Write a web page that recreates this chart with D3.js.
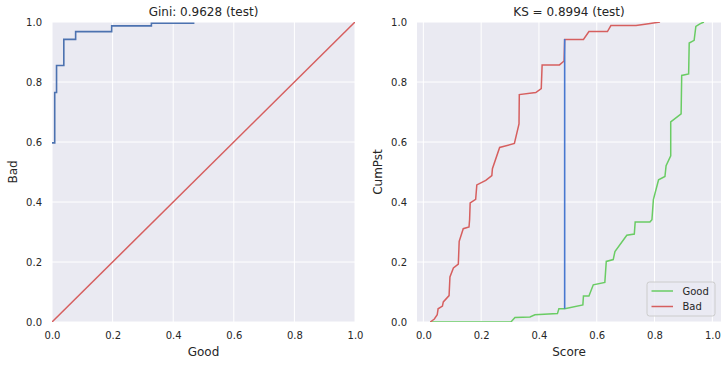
<!DOCTYPE html>
<html>
<head>
<meta charset="utf-8">
<script src="https://cdn.jsdelivr.net/npm/d3@7"></script>
<style>
body { margin: 0; background: #fff; }
text { font-family: "DejaVu Sans", sans-serif; fill: #262626; }
</style>
</head>
<body>
<script>
var w = 727;
var h = 365;

// ROC corner points (test set)
var rocGood = [0, 0.009, 0.009, 0.015, 0.015, 0.039, 0.039, 0.078, 0.078, 0.197, 0.197, 0.328, 0.328, 0.47];
var rocBad  = [0.597, 0.597, 0.765, 0.765, 0.855, 0.855, 0.942, 0.942, 0.968, 0.968, 0.987, 0.987, 0.996, 0.996];

// cumulative share by score
var goodScore = [0.024, 0.303, 0.317, 0.369, 0.386, 0.464, 0.469, 0.489, 0.552, 0.554, 0.573, 0.588, 0.628, 0.633, 0.657, 0.663, 0.704, 0.73, 0.733, 0.784, 0.791, 0.796, 0.814, 0.836, 0.84, 0.856, 0.856, 0.892, 0.894, 0.918, 0.92, 0.937, 0.943, 0.957, 0.971];
var goodCum   = [0, 0, 0.015, 0.017, 0.024, 0.028, 0.044, 0.044, 0.057, 0.087, 0.087, 0.124, 0.132, 0.202, 0.208, 0.235, 0.289, 0.293, 0.333, 0.333, 0.341, 0.408, 0.474, 0.485, 0.521, 0.554, 0.667, 0.694, 0.822, 0.827, 0.93, 0.939, 0.985, 0.994, 1.0];
var badScore = [0.024, 0.038, 0.048, 0.051, 0.066, 0.069, 0.089, 0.092, 0.104, 0.121, 0.124, 0.138, 0.158, 0.16, 0.162, 0.181, 0.185, 0.216, 0.237, 0.239, 0.264, 0.315, 0.331, 0.332, 0.389, 0.408, 0.411, 0.471, 0.487, 0.489, 0.554, 0.573, 0.637, 0.649, 0.736, 0.779, 0.819];
var badCum   = [0, 0.01, 0.024, 0.044, 0.053, 0.067, 0.088, 0.15, 0.18, 0.193, 0.269, 0.311, 0.317, 0.341, 0.397, 0.409, 0.457, 0.472, 0.488, 0.511, 0.582, 0.595, 0.66, 0.758, 0.765, 0.778, 0.857, 0.857, 0.87, 0.942, 0.942, 0.968, 0.968, 0.988, 0.988, 0.994, 1.0];

// KS point
var ksScore = 0.489;
var ksGood = 0.044;
var ksBad = 0.943;

var ticks = [0, 0.2, 0.4, 0.6, 0.8, 1.0];
var legendNames = ["Good", "Bad"];

var blueDeep = "#4c72b0";
var blue = "#4878d0";
var green = "#6acc64";
var red = "#d65f5f";

var svg = d3.select("body").append("svg")
    .attr("width", w)
    .attr("height", h);

var plotTop = 22, plotBottom = 322;

function panel(id, left, right, xDomain, title, xLabel, yLabel) {
    var x = d3.scaleLinear().domain(xDomain).range([left, right]);
    var y = d3.scaleLinear().domain([0, 1]).range([plotBottom, plotTop]);

    var g = svg.append("g");

    svg.append("clipPath").attr("id", id)
       .append("rect")
       .attr("x", left).attr("y", plotTop)
       .attr("width", right - left).attr("height", plotBottom - plotTop);

    g.append("rect")
     .attr("x", left).attr("y", plotTop)
     .attr("width", right - left).attr("height", plotBottom - plotTop)
     .attr("fill", "#eaeaf2");

    // grid
    g.selectAll(".gx").data(ticks).enter().append("line")
     .attr("x1", function(d) { return x(d); })
     .attr("x2", function(d) { return x(d); })
     .attr("y1", plotTop).attr("y2", plotBottom)
     .attr("stroke", "#fff").attr("stroke-width", 1);
    g.selectAll(".gy").data(ticks).enter().append("line")
     .attr("x1", left).attr("x2", right)
     .attr("y1", function(d) { return y(d); })
     .attr("y2", function(d) { return y(d); })
     .attr("stroke", "#fff").attr("stroke-width", 1);

    // axes (labels only)
    var xa = g.append("g").attr("transform", "translate(0," + plotBottom + ")")
      .call(d3.axisBottom(x).tickValues(ticks).tickSize(0).tickPadding(10).tickFormat(d3.format(".1f")));
    var ya = g.append("g").attr("transform", "translate(" + left + ",0)")
      .call(d3.axisLeft(y).tickValues(ticks).tickSize(0).tickPadding(10).tickFormat(d3.format(".1f")));
    [xa, ya].forEach(function(a) {
        a.select(".domain").remove();
        a.selectAll("text").attr("font-size", "10px").attr("font-family", null).attr("fill", "#262626");
    });

    g.append("text")
     .attr("x", (left + right) / 2).attr("y", 16)
     .attr("text-anchor", "middle").attr("font-size", "12px")
     .text(title);
    g.append("text")
     .attr("x", (left + right) / 2).attr("y", 356)
     .attr("text-anchor", "middle").attr("font-size", "12px")
     .text(xLabel);
    g.append("text")
     .attr("transform", "translate(" + (left - 35) + "," + ((plotTop + plotBottom) / 2) + ") rotate(-90)")
     .attr("text-anchor", "middle").attr("font-size", "12px")
     .text(yLabel);

    var plot = svg.append("g").attr("clip-path", "url(#" + id + ")");
    return { x: x, y: y, plot: plot };
}

// ---- left: ROC
var p1 = panel("c1", 52, 355, [0, 1], "Gini: 0.9628 (test)", "Good", "Bad");
var rocLine = d3.line()
    .x(function(d) { return p1.x(d[0]); })
    .y(function(d) { return p1.y(d[1]); });

p1.plot.append("path")
  .datum(d3.zip([0, 1], [0, 1]))
  .attr("d", rocLine)
  .attr("fill", "none").attr("stroke", red).attr("stroke-width", 1.5);

p1.plot.append("path")
  .datum(d3.zip(rocGood, rocBad))
  .attr("d", rocLine)
  .attr("fill", "none").attr("stroke", blueDeep).attr("stroke-width", 1.6);

// ---- right: KS
var p2 = panel("c2", 417, 721, [-0.022, 1.03], "KS = 0.8994 (test)", "Score", "CumPst");
var ksLine = d3.line()
    .x(function(d) { return p2.x(d[0]); })
    .y(function(d) { return p2.y(d[1]); });

p2.plot.append("path")
  .datum(d3.zip(goodScore, goodCum))
  .attr("d", ksLine)
  .attr("fill", "none").attr("stroke", green).attr("stroke-width", 1.5);

p2.plot.append("path")
  .datum(d3.zip(badScore, badCum))
  .attr("d", ksLine)
  .attr("fill", "none").attr("stroke", red).attr("stroke-width", 1.5);

p2.plot.append("line")
  .attr("x1", p2.x(ksScore)).attr("x2", p2.x(ksScore))
  .attr("y1", p2.y(ksGood)).attr("y2", p2.y(ksBad))
  .attr("stroke", blue).attr("stroke-width", 1.6);

// legend
var lg = svg.append("g").attr("transform", "translate(647,282)");
lg.append("rect")
  .attr("width", 68).attr("height", 34).attr("rx", 2.5)
  .attr("fill", "#eaeaf2").attr("fill-opacity", 0.8)
  .attr("stroke", "#cccccc").attr("stroke-width", 1);
lg.selectAll(".item").data(legendNames).enter().append("g")
  .attr("transform", function(d, i) { return "translate(0," + (9 + i * 15.5) + ")"; })
  .each(function(d, i) {
      var it = d3.select(this);
      it.append("line").attr("x1", 4.5).attr("x2", 26)
        .attr("stroke", i == 0 ? green : red).attr("stroke-width", 1.5);
      it.append("text").attr("x", 35.5).attr("y", 3.6)
        .attr("font-size", "10px").text(d);
  });
</script>
</body>
</html>
